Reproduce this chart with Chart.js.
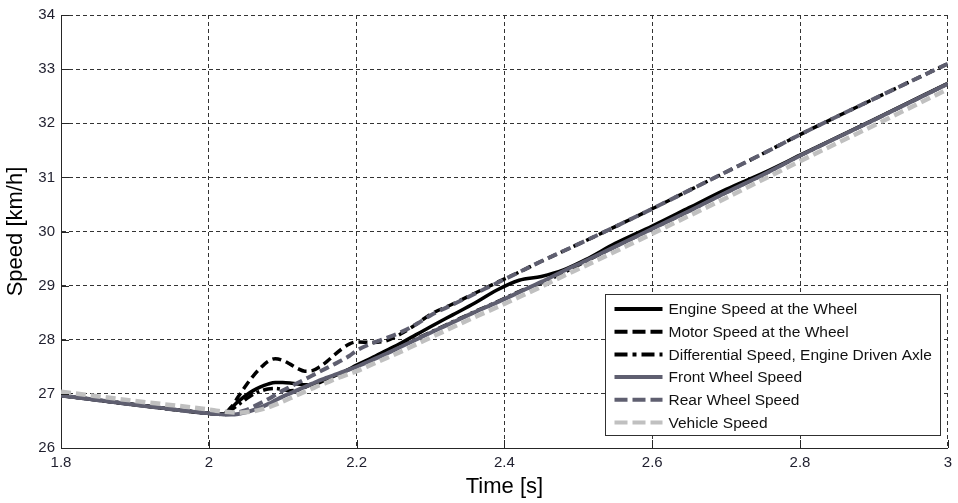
<!DOCTYPE html>
<html>
<head>
<meta charset="utf-8">
<script src="https://cdn.jsdelivr.net/npm/chart.js@4.4.1/dist/chart.umd.min.js"></script>
<style>
  html, body { margin: 0; padding: 0; background: #ffffff; }
  #wrap { width: 958px; height: 503px; }
</style>
</head>
<body>
<div id="wrap"><canvas id="c" width="958" height="503"></canvas></div>
<script>
// Sample times [s]
const time = [1.8, 1.9, 2.0,
  2.01, 2.02, 2.03, 2.04, 2.05, 2.06, 2.07, 2.08, 2.09, 2.10,
  2.11, 2.12, 2.13, 2.14, 2.15, 2.16, 2.17, 2.18, 2.19, 2.20,
  2.22, 2.24, 2.26, 2.28, 2.30,
  2.33, 2.36, 2.39, 2.42, 2.45, 2.48, 2.51,
  2.55, 2.60, 2.65, 2.70, 2.75, 2.80,
  2.90, 3.00];

// Speeds [km/h]
const engineSpeed = [26.97, 26.80, 26.64,
  26.63, 26.63, 26.74, 26.86, 26.97, 27.06, 27.13, 27.18, 27.21, 27.21,
  27.20, 27.18, 27.17, 27.18, 27.21, 27.27, 27.33, 27.39, 27.46, 27.53,
  27.66, 27.80, 27.94, 28.09, 28.24,
  28.46, 28.68, 28.92, 29.10, 29.17, 29.29, 29.48,
  29.78, 30.10, 30.44, 30.78, 31.08, 31.41,
  32.07, 32.74];

const motorSpeed = [26.97, 26.80, 26.64,
  26.63, 26.63, 26.75, 26.95, 27.15, 27.33, 27.48, 27.60, 27.65, 27.62,
  27.55, 27.47, 27.42, 27.43, 27.50, 27.60, 27.72, 27.83, 27.92, 27.96,
  27.95, 27.98, 28.11, 28.28, 28.47,
  28.66, 28.86, 29.06, 29.25, 29.45, 29.64, 29.83,
  30.09, 30.42, 30.76, 31.10, 31.44, 31.79,
  32.45, 33.10];

const differentialSpeed = [26.97, 26.80, 26.64,
  26.63, 26.63, 26.70, 26.80, 26.90, 26.99, 27.05, 27.09, 27.10, 27.08,
  27.06, 27.07, 27.12, 27.18, 27.23, 27.29, 27.34, 27.39, 27.45, 27.51,
  27.63, 27.75, 27.88, 28.01, 28.14,
  28.33, 28.52, 28.70, 28.89, 29.05, 29.24, 29.45,
  29.72, 30.05, 30.38, 30.72, 31.05, 31.40,
  32.06, 32.73];

const frontWheelSpeed = [26.97, 26.80, 26.64,
  26.63, 26.62, 26.62, 26.63, 26.66, 26.70, 26.75, 26.81, 26.88, 26.95,
  27.01, 27.07, 27.13, 27.19, 27.25, 27.30, 27.35, 27.40, 27.45, 27.50,
  27.62, 27.74, 27.87, 28.00, 28.13,
  28.32, 28.51, 28.69, 28.88, 29.07, 29.27, 29.46,
  29.72, 30.05, 30.38, 30.72, 31.05, 31.40,
  32.06, 32.73];

const rearWheelSpeed = [26.97, 26.80, 26.64,
  26.63, 26.62, 26.63, 26.66, 26.70, 26.76, 26.83, 26.90, 26.98, 27.06,
  27.13, 27.20, 27.27, 27.34, 27.41, 27.48, 27.55, 27.62, 27.70, 27.80,
  27.93, 28.03, 28.14, 28.28, 28.45,
  28.65, 28.85, 29.05, 29.25, 29.45, 29.64, 29.83,
  30.09, 30.42, 30.76, 31.10, 31.44, 31.79,
  32.45, 33.10];

const vehicleSpeed = [27.04, 26.87, 26.71,
  26.69, 26.67, 26.66, 26.65, 26.66, 26.68, 26.71, 26.75, 26.80, 26.86,
  26.92, 26.98, 27.04, 27.10, 27.16, 27.21, 27.27, 27.32, 27.37, 27.42,
  27.54, 27.66, 27.78, 27.91, 28.04,
  28.23, 28.42, 28.60, 28.79, 28.98, 29.18, 29.37,
  29.63, 29.96, 30.29, 30.62, 30.96, 31.30,
  31.96, 32.63];

const seriesNames = [
  'Engine Speed at the Wheel',
  'Motor Speed at the Wheel',
  'Differential Speed, Engine Driven Axle',
  'Front Wheel Speed',
  'Rear Wheel Speed',
  'Vehicle Speed'
];

// Axis ticks
const xTickValues = [1.8, 2.0, 2.2, 2.4, 2.6, 2.8, 3.0];
const xTickLabels = ['1.8', '2', '2.2', '2.4', '2.6', '2.8', '3'];
const yTickValues = [26, 27, 28, 29, 30, 31, 32, 33, 34];
const yTickLabels = ['26', '27', '28', '29', '30', '31', '32', '33', '34'];

const FONT = '"Liberation Sans", Arial, Helvetica, sans-serif';
const BLACK = '#000000';
const DARK_GREY = '#5f5f70';
const LIGHT_GREY = '#c0c0c0';
const AXIS = '#262626';

function pts(values) {
  return time.map((t, i) => ({ x: t, y: values[i] }));
}

function series(label, values, color, width, dash, order) {
  return {
    label: label,
    data: pts(values),
    borderColor: color,
    backgroundColor: color,
    borderWidth: width,
    borderDash: dash,
    borderCapStyle: 'butt',
    borderJoinStyle: 'round',
    pointRadius: 0,
    pointHoverRadius: 0,
    fill: false,
    cubicInterpolationMode: 'monotone',
    order: order
  };
}

// Short inward tick marks along the left and bottom axes
const inwardTicks = {
  id: 'inwardTicks',
  afterDatasetsDraw(chart) {
    const { ctx, chartArea: a, scales } = chart;
    const len = 8;
    ctx.save();
    ctx.strokeStyle = AXIS;
    ctx.lineWidth = 1;
    ctx.setLineDash([]);
    ctx.beginPath();
    xTickValues.forEach(v => {
      const x = Math.round(scales.x.getPixelForValue(v)) + 0.5;
      ctx.moveTo(x, a.bottom);
      ctx.lineTo(x, a.bottom - len);
    });
    yTickValues.forEach(v => {
      const y = Math.round(scales.y.getPixelForValue(v)) + 0.5;
      ctx.moveTo(a.left, y);
      ctx.lineTo(a.left + len, y);
    });
    ctx.stroke();
    ctx.restore();
  }
};

// Boxed legend in the lower right corner of the plot
const boxLegend = {
  id: 'boxLegend',
  afterDraw(chart) {
    const { ctx, chartArea: a } = chart;
    const w = 335, h = 141;
    const x0 = Math.round(a.right - 8 - w) + 0.5;
    const y0 = Math.round(a.bottom - 13 - h) + 0.5;
    ctx.save();
    ctx.fillStyle = '#ffffff';
    ctx.fillRect(x0, y0, w, h);
    ctx.strokeStyle = '#303030';
    ctx.lineWidth = 1;
    ctx.setLineDash([]);
    ctx.strokeRect(x0, y0, w, h);
    const rowH = 22.7;
    ctx.font = '15.5px ' + FONT;
    ctx.textBaseline = 'middle';
    ctx.textAlign = 'left';
    chart.data.datasets.forEach((ds, i) => {
      const y = y0 + 14.5 + i * rowH;
      ctx.save();
      ctx.strokeStyle = ds.borderColor;
      ctx.lineWidth = 4;
      ctx.setLineDash(ds.legendDash || []);
      ctx.lineCap = 'butt';
      ctx.beginPath();
      ctx.moveTo(x0 + 9, y);
      ctx.lineTo(x0 + 57, y);
      ctx.stroke();
      ctx.restore();
      ctx.fillStyle = '#111111';
      ctx.fillText(ds.label, x0 + 63, y + 1);
    });
    ctx.restore();
  }
};

const datasets = [
  series(seriesNames[0], engineSpeed, BLACK, 3.5, [], 6),
  series(seriesNames[1], motorSpeed, BLACK, 3.5, [9, 5], 5),
  series(seriesNames[2], differentialSpeed, BLACK, 3.5, [10, 4, 3, 4], 4),
  series(seriesNames[3], frontWheelSpeed, DARK_GREY, 4, [], 3),
  series(seriesNames[4], rearWheelSpeed, DARK_GREY, 4, [10, 5], 2),
  series(seriesNames[5], vehicleSpeed, LIGHT_GREY, 4.5, [10, 5], 1)
];
datasets[0].legendDash = [];
datasets[1].legendDash = [13, 5];
datasets[2].legendDash = [13, 5, 4, 5];
datasets[3].legendDash = [];
datasets[4].legendDash = [13, 5];
datasets[5].legendDash = [13, 5];

new Chart(document.getElementById('c'), {
  type: 'line',
  data: { datasets: datasets },
  options: {
    responsive: false,
    animation: false,
    devicePixelRatio: 1,
    layout: { padding: { top: 14, right: 7, left: 0, bottom: 0 } },
    plugins: {
      legend: { display: false },
      tooltip: { enabled: false }
    },
    scales: {
      x: {
        type: 'linear',
        min: 1.8,
        max: 3.0,
        afterBuildTicks(scale) { scale.ticks = xTickValues.map(v => ({ value: v })); },
        afterFit(scale) { scale.height = 55; },
        ticks: {
          callback: (v, i) => xTickLabels[i],
          color: '#1f1f2e',
          font: { family: FONT, size: 15 },
          padding: 6,
          maxRotation: 0,
          autoSkip: false
        },
        grid: { color: '#333333', lineWidth: 1, drawTicks: false },
        border: { display: true, color: AXIS, width: 1, dash: [4, 3] },
        title: {
          display: true,
          text: 'Time [s]',
          color: '#000000',
          font: { family: FONT, size: 22 },
          padding: { top: 0, bottom: 3 }
        }
      },
      y: {
        type: 'linear',
        min: 26,
        max: 34,
        afterBuildTicks(scale) { scale.ticks = yTickValues.map(v => ({ value: v })); },
        afterFit(scale) { scale.width = 61; },
        ticks: {
          callback: (v, i) => yTickLabels[i],
          color: '#1f1f2e',
          font: { family: FONT, size: 15 },
          padding: 6,
          autoSkip: false
        },
        grid: { color: '#333333', lineWidth: 1, drawTicks: false },
        border: { display: true, color: AXIS, width: 1, dash: [4, 3] },
        title: {
          display: true,
          text: 'Speed [km/h]',
          color: '#000000',
          font: { family: FONT, size: 22 },
          padding: { top: 3, bottom: 0 }
        }
      }
    }
  },
  plugins: [inwardTicks, boxLegend]
});
</script>
</body>
</html>
